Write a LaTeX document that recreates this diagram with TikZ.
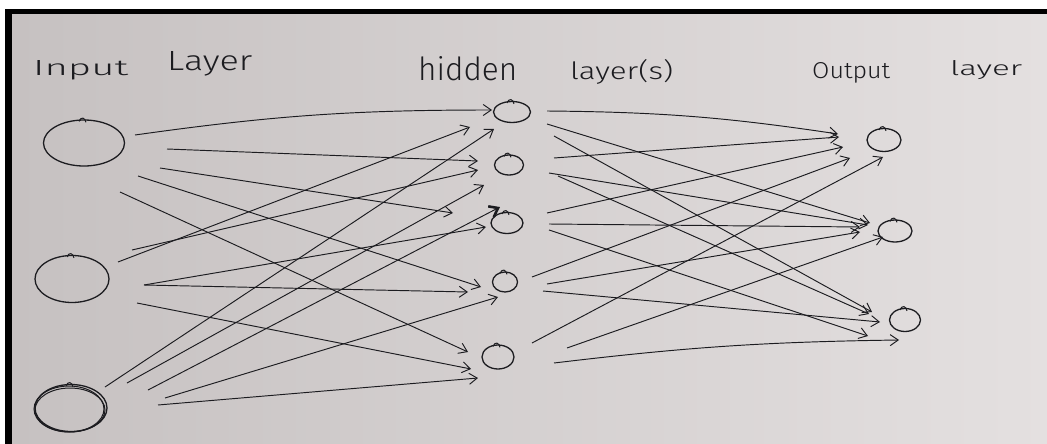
\documentclass[tikz,border=0pt]{standalone}
\usepackage{graphicx}
\usepackage{fontspec}
\usetikzlibrary{arrows.meta,shapes.geometric,calc}

\newfontfamily\handfont{Fira Sans Light}

\definecolor{paperL}{RGB}{198,193,193}
\definecolor{paperR}{RGB}{228,224,224}
\definecolor{ink}{RGB}{28,28,32}

% a hand-lettered word stretched to a given width and height (pt)
\newcommand{\hw}[3]{\resizebox{#1pt}{#2pt}{#3}}

\begin{document}
\begin{tikzpicture}[x=1pt,y=-1pt,
  unit/.style={draw=ink, ellipse, line width=1.3pt, inner sep=0pt},
  link/.style={draw=ink, line width=0.95pt, -{Straight Barb[length=8pt,width=11pt]}},
  boldlink/.style={draw=ink, line width=0.95pt, -{Straight Barb[length=8pt,width=12pt,line width=2.6pt]}},
  headtext/.style={font=\handfont, text=ink, inner sep=0pt}]

\useasboundingbox (0,0) rectangle (1047,444);

% sheet of paper and the dark frame around it
\fill[white] (0,0) rectangle (1047,444);
\fill[black] (5,9) rectangle (1047,444);
\shade[left color=paperL, right color=paperR] (12,15) rectangle (1047,444);

% headings
\node[headtext, anchor=base west] (tin) at (33,75)
  {\hw{95}{15}{Input}\hspace{39pt}\raisebox{4pt}{\hw{85}{19}{Layer}}};
\node[headtext, anchor=base west] (thid) at (418,80)
  {\hw{99}{24}{hidden}\hspace{53pt}\hw{103}{20}{layer(s)}};
\node[headtext, anchor=base west] (tout) at (812,78)
  {\hw{78}{16}{Output}\hspace{60pt}\raisebox{3pt}{\hw{72}{15}{layer}}};

% input layer
\node[unit, minimum width=81pt, minimum height=46pt] (I1) at (84,143) {};
\node[unit, minimum width=74pt, minimum height=47pt] (I2) at (72,279) {};
\node[unit, minimum width=72pt, minimum height=47pt] (I3) at (71,408) {};
% extra pen strokes round the last input unit
\draw[ink, line width=1pt] ($(I3)+(-2,1)$) ellipse [x radius=35pt, y radius=23pt];
\draw[ink, line width=1pt] ($(I3)+(-1,2)$) ellipse [x radius=35pt, y radius=22pt];

% hidden layer
\node[unit, minimum width=37pt, minimum height=21pt] (H1) at (512,112) {};
\node[unit, minimum width=29pt, minimum height=20pt] (H2) at (509,165) {};
\node[unit, minimum width=32pt, minimum height=21pt] (H3) at (507,223) {};
\node[unit, minimum width=25pt, minimum height=20pt] (H4) at (505,282) {};
\node[unit, minimum width=32pt, minimum height=24pt] (H5) at (498,357) {};

% output layer
\node[unit, minimum width=34pt, minimum height=23pt] (O1) at (884,140) {};
\node[unit, minimum width=34pt, minimum height=22pt] (O2) at (895,231) {};
\node[unit, minimum width=31pt, minimum height=23pt] (O3) at (905,320) {};

% little pen hooks where each circle was started
\foreach \n in {I1,I2,I3,H1,H2,H3,H4,H5,O1,O2,O3}
  \draw[ink, line width=1pt] ($(\n.north)+(-5,2)$) .. controls ($(\n.north)+(-3,-3)$) and ($(\n.north)+(1,-2)$) .. ($(\n.north)+(2,3)$);

% input -> hidden
\draw[link] ($(I1)+(51,-8)$) to[bend left=4] ($(H1)+(-20,-2)$);
\draw[link] ($(I1)+(83,6)$)  -- ($(H2)+(-31,-4)$);
\draw[link] ($(I1)+(76,25)$) -- ($(H3)+(-54,-10)$);
\draw[link] ($(I1)+(54,33)$) -- ($(H4)+(-24,5)$);
\draw[link] ($(I1)+(36,49)$) -- ($(H5)+(-30,-5)$);

\draw[link] ($(I2)+(46,-17)$) -- ($(H1)+(-42,15)$);
\draw[link] ($(I2)+(60,-29)$) -- ($(H2)+(-31,5)$);
\draw[link] ($(I2)+(72,6)$)   -- ($(H3)+(-21,4)$);
\draw[link] ($(I2)+(72,6)$)   -- ($(H4)+(-37,10)$);
\draw[link] ($(I2)+(65,24)$)  -- ($(H5)+(-27,12)$);

\draw[link] ($(I3)+(34,-21)$) -- ($(H1)+(-18,17)$);
\draw[link] ($(I3)+(56,-25)$) -- ($(H2)+(-25,20)$);
\draw[boldlink] ($(I3)+(77,-18)$) -- ($(H3)+(-7,-16)$);
\draw[link] ($(I3)+(94,-10)$) -- ($(H4)+(-7,15)$);
\draw[link] ($(I3)+(87,-3)$)  -- ($(H5)+(-20,21)$);

% hidden -> output
\draw[link] ($(H1)+(35,-1)$) to[bend left=4] ($(O1)+(-46,-6)$);
\draw[link] ($(H1)+(35,12)$) -- ($(O2)+(-25,-8)$);
\draw[link] ($(H1)+(42,24)$) -- ($(O3)+(-33,-8)$);

\draw[link] ($(H2)+(45,-7)$) -- ($(O1)+(-45,-3)$);
\draw[link] ($(H2)+(40,8)$)  -- ($(O2)+(-27,-6)$);
\draw[link] ($(H2)+(49,11)$) -- ($(O3)+(-36,-6)$);

\draw[link] ($(H3)+(40,-10)$) -- ($(O1)+(-41,7)$);
\draw[link] ($(H3)+(42,1)$)   -- ($(O2)+(-35,-4)$);
\draw[link] ($(H3)+(42,7)$)   -- ($(O3)+(-37,16)$);

\draw[link] ($(H4)+(27,-5)$) -- ($(O1)+(-34,18)$);
\draw[link] ($(H4)+(42,2)$)  -- ($(O2)+(-35,1)$);
\draw[link] ($(H4)+(38,9)$)  -- ($(O3)+(-25,2)$);

\draw[link] ($(H5)+(34,-14)$) -- ($(O1)+(-1,17)$);
\draw[link] ($(H5)+(69,-9)$)  -- ($(O2)+(-12,6)$);
\draw[link] ($(H5)+(56,6)$) to[bend left=3] ($(O3)+(-6,20)$);

\end{tikzpicture}
\end{document}
